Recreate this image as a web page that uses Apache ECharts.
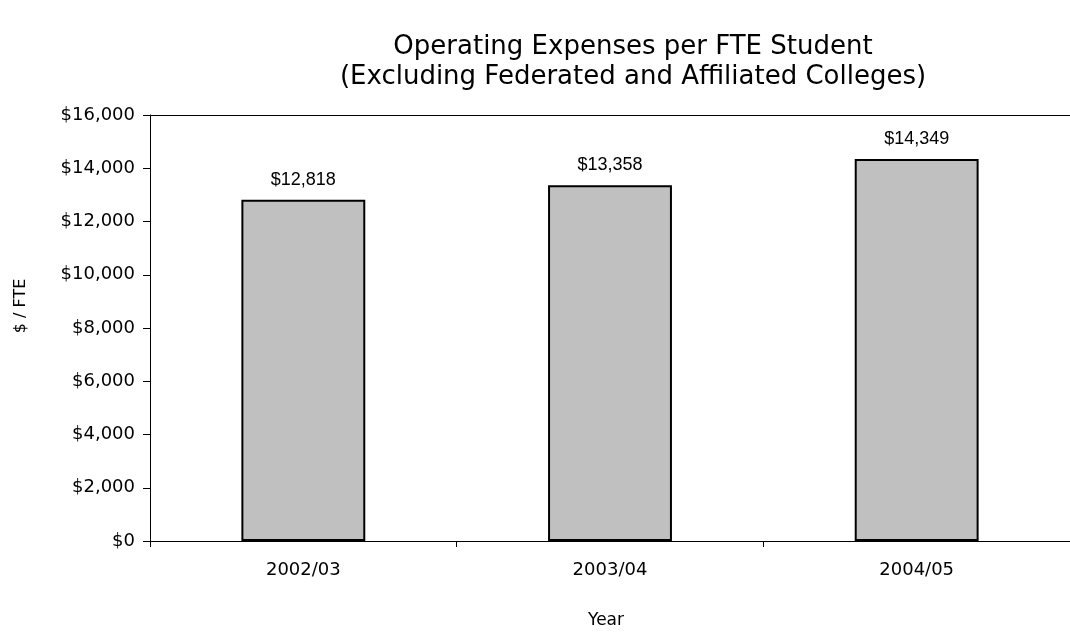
<!DOCTYPE html>
<html>
<head>
<meta charset="utf-8">
<script src="https://cdn.jsdelivr.net/npm/echarts@6/dist/echarts.min.js"></script>
<style>
  html, body { margin: 0; padding: 0; background: #fff; }
  #chart { width: 1070px; height: 632px; }
</style>
</head>
<body>
<div id="chart"></div>
<script>
// Academic years and operating expenses per FTE student
const years = ['2002/03', '2003/04', '2004/05'];
const expensePerFte = [12818, 13358, 14349];
const yTicks = [0, 2000, 4000, 6000, 8000, 10000, 12000, 14000, 16000];

const money = v => '$' + Number(v).toLocaleString('en-US');
const axisFont = 'DejaVu Sans';

const chart = echarts.init(document.getElementById('chart'));
chart.setOption({
  backgroundColor: '#ffffff',
  animation: false,
  title: {
    text: 'Operating Expenses per FTE Student\n(Excluding Federated and Affiliated Colleges)',
    left: 628,
    textAlign: 'center',
    top: 27,
    textStyle: {
      fontFamily: axisFont,
      fontSize: 26,
      fontWeight: 'normal',
      color: '#000',
      lineHeight: 30
    }
  },
  grid: { left: 150, right: 0, top: 115, bottom: 91 },
  xAxis: [{
    type: 'category',
    data: years,
    axisLine: { lineStyle: { color: '#000', width: 1 } },
    axisTick: { show: true, length: 6, lineStyle: { color: '#000' } },
    axisLabel: { color: '#000', fontFamily: axisFont, fontSize: 18, margin: 20 }
  }, {
    type: 'category',
    position: 'top',
    data: years,
    axisLine: { show: true, lineStyle: { color: '#000', width: 1 } },
    axisTick: { show: false },
    axisLabel: { show: false }
  }],
  yAxis: {
    type: 'value',
    min: yTicks[0],
    max: yTicks[yTicks.length - 1],
    interval: yTicks[1] - yTicks[0],
    axisLine: { show: true, lineStyle: { color: '#000', width: 1 } },
    axisTick: { show: true, length: 7, lineStyle: { color: '#000' } },
    splitLine: { show: false },
    axisLabel: {
      color: '#000',
      fontFamily: axisFont,
      fontSize: 18,
      margin: 15,
      formatter: money
    }
  },
  graphic: [{
    type: 'text',
    x: 606,
    y: 621,
    style: {
      text: 'Year',
      fill: '#000',
      font: '17px "DejaVu Sans"',
      align: 'center',
      verticalAlign: 'middle'
    }
  }, {
    type: 'text',
    x: 21,
    y: 306,
    rotation: Math.PI / 2,
    style: {
      text: '$ / FTE',
      fill: '#000',
      font: '16px "DejaVu Sans"',
      align: 'center',
      verticalAlign: 'middle'
    }
  }],
  series: [{
    type: 'bar',
    data: expensePerFte,
    barWidth: '40.4%',
    itemStyle: { color: '#c0c0c0', borderColor: '#000', borderWidth: 2 },
    label: {
      show: true,
      position: 'top',
      distance: 11,
      color: '#000',
      fontFamily: 'Liberation Sans, Arial',
      fontSize: 18,
      formatter: p => money(p.value)
    }
  }]
});
</script>
</body>
</html>
